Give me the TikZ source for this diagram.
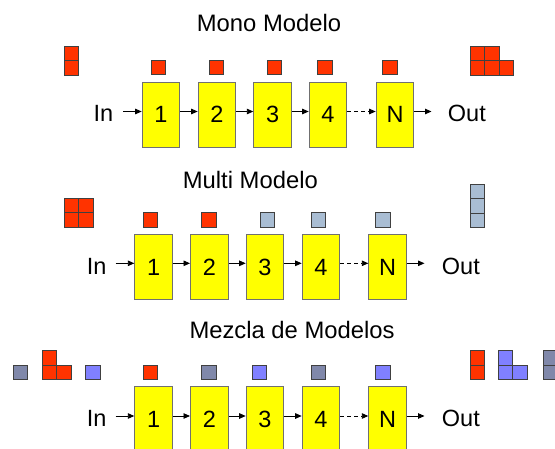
\documentclass[tikz,border=0pt]{standalone}
\usepackage{fontspec}
\setmainfont{Liberation Sans}
\usetikzlibrary{arrows.meta}

\definecolor{stagefill}{HTML}{FFFF00}
\definecolor{stageline}{HTML}{707070}
\definecolor{cellline}{HTML}{404040}
\definecolor{cred}{HTML}{FF3300}
\definecolor{csteel}{HTML}{A9BDD3}
\definecolor{cslate}{HTML}{8088AA}
\definecolor{cperi}{HTML}{8080FF}

\tikzset{
  stage/.style={draw=stageline, line width=1.1pt, fill=stagefill,
    minimum width=37.5pt, minimum height=65pt, inner sep=0pt,
    anchor=north west, font=\fontsize{23.5}{28}\selectfont},
  lbl/.style={inner sep=0pt, font=\fontsize{23.5}{28}\selectfont},
  heading/.style={inner sep=0pt, anchor=base west, font=\fontsize{23.8}{28}\selectfont},
  flow/.style={-{Triangle[length=6.5pt,width=5.5pt]}, line width=0.9pt},
  skip/.style={flow, dash pattern=on 4pt off 3pt},
  cellbox/.style={draw=cellline, line width=0.9pt},
}
% one coloured square, top-left corner given
\newcommand\cell[3]{\draw[cellbox, fill=#3] (#1,#2) rectangle ++(14.5,14.5);}

\begin{document}
\begin{tikzpicture}[x=1pt, y=-1pt]
\useasboundingbox (0,0) rectangle (555,448);
\clip (0,0) rectangle (555,448);

% ---------------- Mono Modelo ----------------
\node[heading] (t1) at (196.7,31.5) {Mono Modelo};
\node[stage] (a1) at (141.7,81.7) {1};
\node[stage] (a2) at (197.7,81.7) {2};
\node[stage] (a3) at (253.3,81.7) {3};
\node[stage] (a4) at (308.7,81.7) {4};
\node[stage] (a5) at (375.7,81.7) {N};
\node[lbl, anchor=base east] (in1) at (113.3,121.7) {In};
\node[lbl, anchor=base west] (out1) at (447.7,121.7) {Out};
\coordinate (ia) at (123,111.5);
\coordinate (oa) at (431.5,111.5);
\draw[flow] (ia) -- (ia -| a1.west);
\draw[flow] (ia -| a1.east) -- (ia -| a2.west);
\draw[flow] (ia -| a2.east) -- (ia -| a3.west);
\draw[flow] (ia -| a3.east) -- (ia -| a4.west);
\draw[skip] (ia -| a4.east) -- (ia -| a5.west);
\draw[flow] (oa -| a5.east) -- (oa);
\cell{151}{60.3}{cred}
\cell{209.3}{60.3}{cred}
\cell{267}{60.3}{cred}
\cell{317.7}{60.3}{cred}
\cell{382.7}{60.3}{cred}
% input and output sets
\cell{64.3}{46}{cred}
\cell{64.3}{60.5}{cred}
\cell{470}{46}{cred}
\cell{484.5}{46}{cred}
\cell{470}{60.5}{cred}
\cell{484.5}{60.5}{cred}
\cell{499}{60.5}{cred}

% ---------------- Multi Modelo ----------------
\node[heading] (t2) at (182.7,188.3) {Multi Modelo};
\node[stage] (b1) at (134.3,234) {1};
\node[stage] (b2) at (190,234) {2};
\node[stage] (b3) at (245.7,234) {3};
\node[stage] (b4) at (301.7,234) {4};
\node[stage] (b5) at (368.3,234) {N};
\node[lbl, anchor=base east] (in2) at (106.7,274.5) {In};
\node[lbl, anchor=base west] (out2) at (441.7,274.5) {Out};
\coordinate (ib) at (115.7,263.3);
\coordinate (ob) at (424.5,263.3);
\draw[flow] (ib) -- (ib -| b1.west);
\draw[flow] (ib -| b1.east) -- (ib -| b2.west);
\draw[flow] (ib -| b2.east) -- (ib -| b3.west);
\draw[flow] (ib -| b3.east) -- (ib -| b4.west);
\draw[skip] (ib -| b4.east) -- (ib -| b5.west);
\draw[flow] (ob -| b5.east) -- (ob);
\cell{143.3}{212.5}{cred}
\cell{201.7}{212.5}{cred}
\cell{260}{212.5}{csteel}
\cell{311}{212.5}{csteel}
\cell{375.7}{212.5}{csteel}
% input and output sets
\cell{64.3}{198}{cred}
\cell{78.8}{198}{cred}
\cell{64.3}{212.5}{cred}
\cell{78.8}{212.5}{cred}
\cell{470}{184}{csteel}
\cell{470}{198.5}{csteel}
\cell{470}{213}{csteel}

% ---------------- Mezcla de Modelos ----------------
\node[heading] (t3) at (189.3,338.5) {Mezcla de Modelos};
\node[stage] (c1) at (134.3,386) {1};
\node[stage] (c2) at (190,386) {2};
\node[stage] (c3) at (245.7,386) {3};
\node[stage] (c4) at (301.7,386) {4};
\node[stage] (c5) at (368.3,386) {N};
\node[lbl, anchor=base east] (in3) at (106.7,426) {In};
\node[lbl, anchor=base west] (out3) at (441.7,426) {Out};
\coordinate (ic) at (115.7,416);
\coordinate (oc) at (424.5,416);
\draw[flow] (ic) -- (ic -| c1.west);
\draw[flow] (ic -| c1.east) -- (ic -| c2.west);
\draw[flow] (ic -| c2.east) -- (ic -| c3.west);
\draw[flow] (ic -| c3.east) -- (ic -| c4.west);
\draw[skip] (ic -| c4.east) -- (ic -| c5.west);
\draw[flow] (oc -| c5.east) -- (oc);
\cell{143.3}{365}{cred}
\cell{201.7}{365}{cslate}
\cell{252.3}{365}{cperi}
\cell{311}{365}{cslate}
\cell{375.7}{365}{cperi}
% input and output sets
\cell{13.3}{365}{cslate}
\cell{42.3}{350.5}{cred}
\cell{42.3}{365}{cred}
\cell{56.8}{365}{cred}
\cell{85.7}{365}{cperi}
\cell{470}{350.5}{cred}
\cell{470}{365}{cred}
\cell{498.3}{350.5}{cperi}
\cell{498.3}{365}{cperi}
\cell{512.8}{365}{cperi}
\cell{543.3}{350.5}{cslate}
\cell{543.3}{365}{cslate}
\end{tikzpicture}
\end{document}
